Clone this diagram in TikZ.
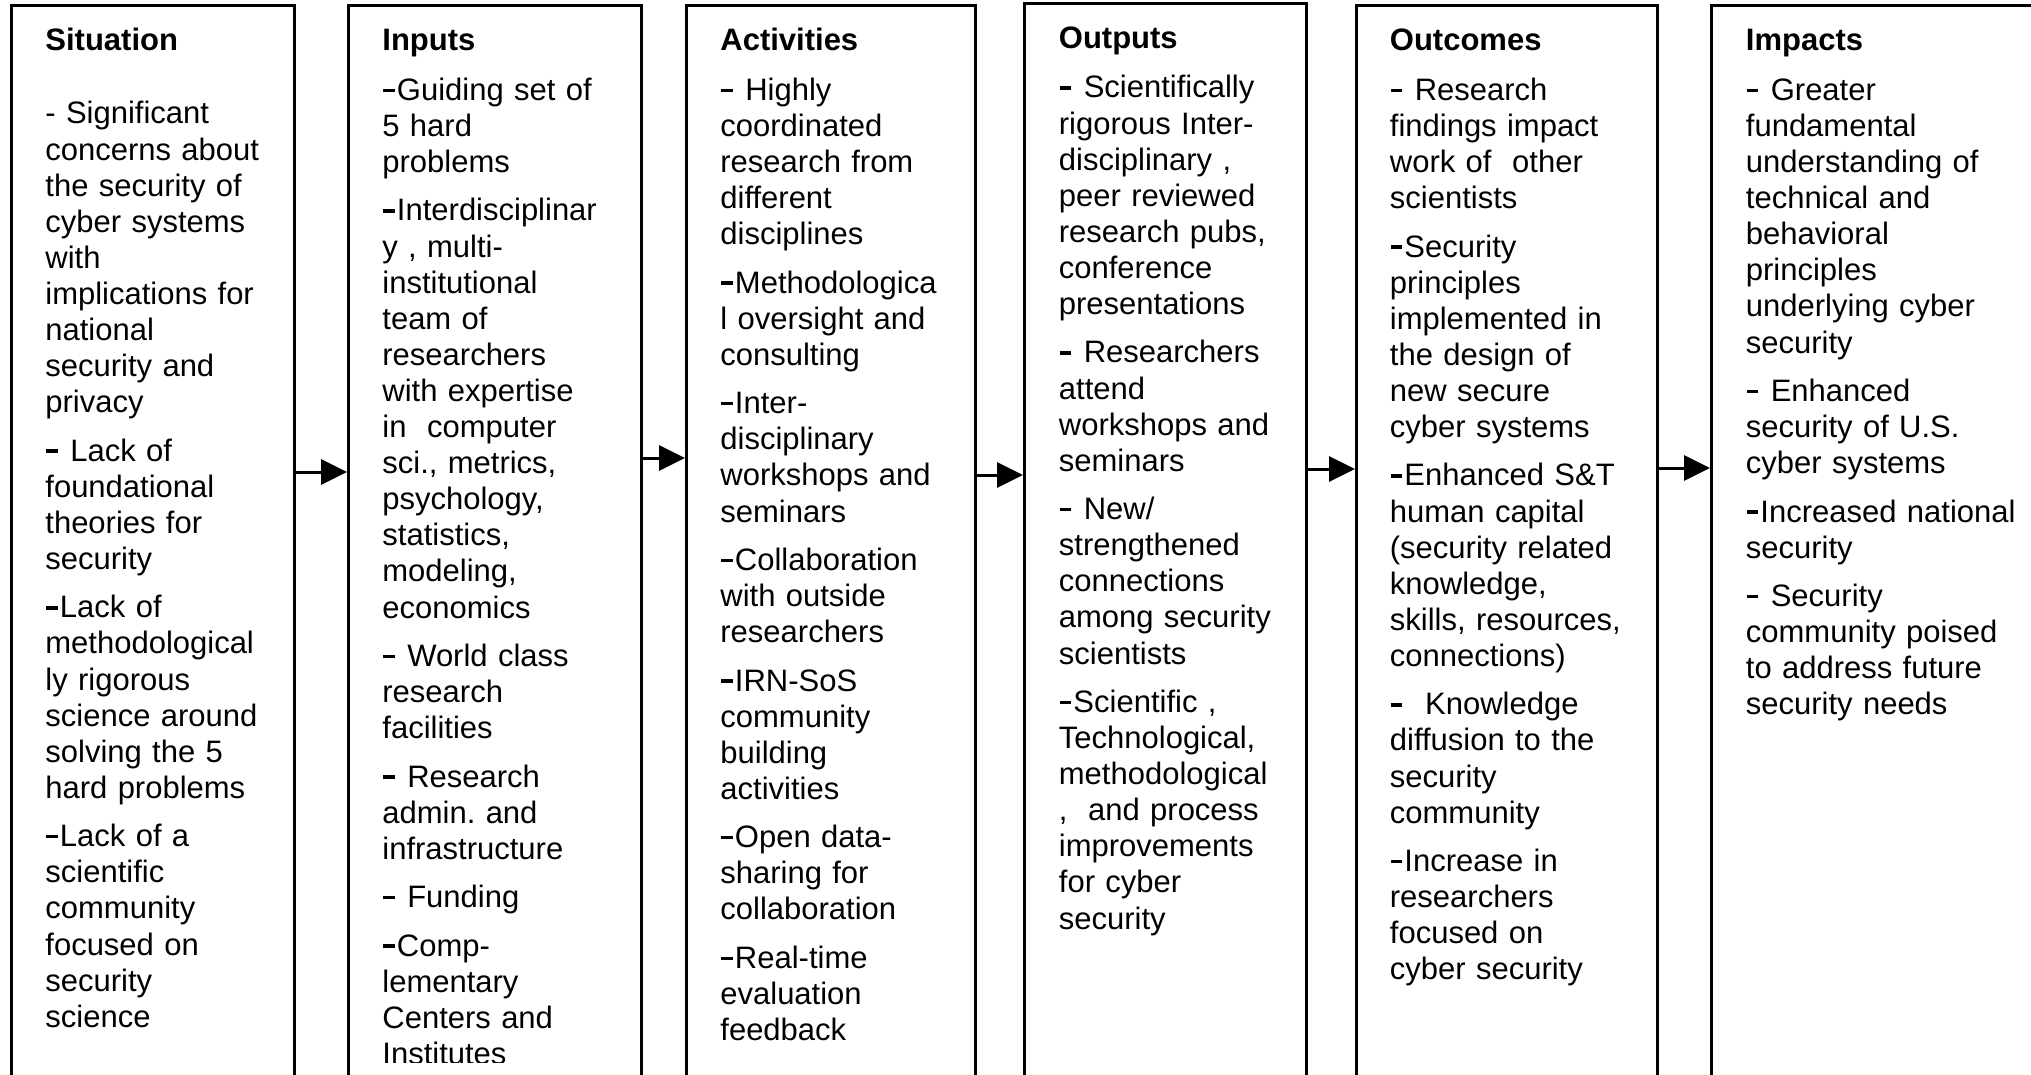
\documentclass[tikz,border=0pt]{standalone}
\usepackage{fontspec}
\setmainfont{Liberation Sans}
\usetikzlibrary{arrows.meta}
\frenchspacing
% heavy bullet dash used at the start of list items
\newcommand\bdash{\hspace{0.02em}\rule[0.27em]{0.38em}{0.11em}\hspace{0.07em}}
\begin{document}
\begin{tikzpicture}[x=0.5pt,y=-0.5pt,
  column/.style={draw=black,line width=1.5pt,fill=none,rectangle,anchor=north west,inner sep=0pt,minimum height=536pt},
  heading/.style={anchor=base west,inner sep=0pt,font=\fontsize{15.5pt}{18.05pt}\selectfont\bfseries},
  body/.style={anchor=base west,inner sep=0pt,align=left,text width=175pt,font=\fontsize{15.5pt}{18.05pt}\selectfont},
  flow/.style={line width=1.5pt,-{Triangle[length=13pt,width=12.5pt]}}]
\clip (0,0) rectangle (2031,1075);
\fill[white] (0,0) rectangle (2031,1075);
\def\gap{6.15pt}

% column frames
\node[column,minimum width=141.5pt] (sit) at (10,4) {};
\node[column,minimum width=146.5pt] (inp) at (347,4) {};
\node[column,minimum width=144.5pt] (act) at (685,4) {};
\node[column,minimum width=141pt,minimum height=537pt] (out) at (1023,2) {};
\node[column,minimum width=150.5pt] (otc) at (1355,4) {};
\node[column,minimum width=175pt] (imp) at (1710,4) {};

% headings
\node[heading] (hsit) at (45,51) {Situation};
\node[heading] (hinp) at (382,51) {Inputs};
\node[heading] (hact) at (720,51) {Activities};
\node[heading] (hout) at (1058.5,48.5) {Outputs};
\node[heading] (hotc) at (1389.5,51) {Outcomes};
\node[heading] (himp) at (1745.5,51) {Impacts};

% column texts
\node[body] (tsit) at (45,124) {- Significant\\ concerns about\\ the security of\\ cyber systems\\ with\\ implications for\\ national\\ security and\\ privacy\\[\gap]
\bdash{} Lack of\\ foundational\\ theories for\\ security\\[\gap]
\bdash{}Lack of\\ methodological\\ ly rigorous\\ science around\\ solving the 5\\ hard problems\\[\gap]
\bdash{}Lack of a\\ scientific\\ community\\ focused on\\ security\\ science};

\begin{scope}
\clip (347,0) rectangle (640,1062);
\node[body] (tinp) at (382,100.4) {\bdash{}Guiding set of\\ 5 hard\\ problems\\[\gap]
\bdash{}Interdisciplinar\\ y , multi-\\ institutional\\ team of\\ researchers\\ with expertise\\ in~~computer\\ sci., metrics,\\ psychology,\\ statistics,\\ modeling,\\ economics\\[\gap]
\bdash{} World class\\ research\\ facilities\\[\gap]
\bdash{} Research\\ admin. and\\ infrastructure\\[\gap]
\bdash{} Funding\\[\gap]
\bdash{}Comp-\\ lementary\\ Centers and\\ Institutes};
\end{scope}

\node[body] (tact) at (720,100.4) {\bdash{} Highly\\ coordinated\\ research from\\ different\\ disciplines\\[\gap]
\bdash{}Methodologica\\ l oversight and\\ consulting\\[\gap]
\bdash{}Inter-\\ disciplinary\\ workshops and\\ seminars\\[\gap]
\bdash{}Collaboration\\ with outside\\ researchers\\[\gap]
\bdash{}IRN-SoS\\ community\\ building\\ activities\\[\gap]
\bdash{}Open data-\\ sharing for\\ collaboration\\[\gap]
\bdash{}Real-time\\ evaluation\\ feedback};

\node[body] (tout) at (1058.5,98) {\bdash{} Scientifically\\ rigorous Inter-\\ disciplinary ,\\ peer reviewed\\ research pubs,\\ conference\\ presentations\\[\gap]
\bdash{} Researchers\\ attend\\ workshops and\\ seminars\\[\gap]
\bdash{} New/\\ strengthened\\ connections\\ among security\\ scientists\\[\gap]
\bdash{}Scientific ,\\ Technological,\\ methodological\\ ,~~and process\\ improvements\\ for cyber\\ security};

\node[body] (totc) at (1389.5,100.4) {\bdash{} Research\\ findings impact\\ work of~~other\\ scientists\\[\gap]
\bdash{}Security\\ principles\\ implemented in\\ the design of\\ new secure\\ cyber systems\\[\gap]
\bdash{}Enhanced S\&T\\ human capital\\ (security related\\ knowledge,\\ skills, resources,\\ connections)\\[\gap]
\bdash{}~~Knowledge\\ diffusion to the\\ security\\ community\\[\gap]
\bdash{}Increase in\\ researchers\\ focused on\\ cyber security};

\node[body] (timp) at (1745.5,100.4) {\bdash{} Greater\\ fundamental\\ understanding of\\ technical and\\ behavioral\\ principles\\ underlying cyber\\ security\\[\gap]
\bdash{} Enhanced\\ security of U.S.\\ cyber systems\\[\gap]
\bdash{}Increased national\\ security\\[\gap]
\bdash{} Security\\ community poised\\ to address future\\ security needs};

% flow arrows between columns
\coordinate (ya) at (0,472);
\coordinate (yb) at (0,458);
\coordinate (yc) at (0,475);
\coordinate (yd) at (0,469);
\coordinate (ye) at (0,468);
\draw[flow] (sit.east |- ya) -- (inp.west |- ya);
\draw[flow] (inp.east |- yb) -- (act.west |- yb);
\draw[flow] (act.east |- yc) -- (out.west |- yc);
\draw[flow] (out.east |- yd) -- (otc.west |- yd);
\draw[flow] (otc.east |- ye) -- (imp.west |- ye);
\end{tikzpicture}
\end{document}
